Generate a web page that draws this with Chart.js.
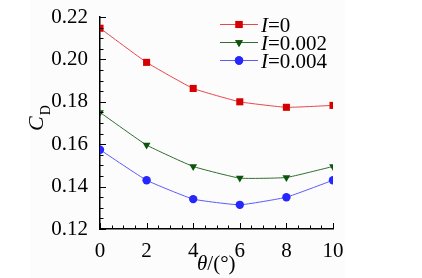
<!DOCTYPE html>
<html>
<head>
<meta charset="utf-8">
<script src="https://cdn.jsdelivr.net/npm/chart.js@4"></script>
<style>
html,body{margin:0;padding:0;background:#fff;}
#wrap{width:422px;height:278px;position:relative;}
</style>
</head>
<body>
<div id="wrap"><canvas id="c" width="422" height="278"></canvas></div>
<script>
const thetas = [0, 2, 4, 6, 8, 10];
const cdI0 = [0.2147, 0.1986, 0.1863, 0.1800, 0.1774, 0.1783];
const cdI002 = [0.1750, 0.1596, 0.1495, 0.1440, 0.1443, 0.1495];
const cdI004 = [0.1574, 0.1430, 0.1341, 0.1314, 0.1350, 0.1430];
const seriesI = ['0', '0.002', '0.004'];
const xTicks = [0, 2, 4, 6, 8, 10];
const yTicks = [0.12, 0.14, 0.16, 0.18, 0.20, 0.22];

const FONT = '"Liberation Serif", "DejaVu Serif", serif';
const lineColors = ['#e8474a', '#2f6f2f', '#5a5aff'];
const markColors = ['#d60000', '#0b560b', '#2626ff'];
const pStyles = ['rect', 'triangle', 'circle'];
const pRadius = [5, 4.5, 4.2];
const pRot = [0, 180, 0];

function mk(vals, i) {
  return {
    label: 'I=' + seriesI[i],
    data: thetas.map((t, k) => ({x: t, y: vals[k]})),
    borderColor: lineColors[i],
    backgroundColor: markColors[i],
    pointBackgroundColor: markColors[i],
    pointBorderColor: markColors[i],
    pointBorderWidth: 0,
    borderWidth: 1,
    pointStyle: pStyles[i],
    pointRadius: pRadius[i],
    pointRotation: pRot[i],
    tension: 0.12,
    fill: false
  };
}

const deco = {
  id: 'deco',
  beforeDraw(chart) {
    const ctx = chart.ctx;
    ctx.save();
    ctx.fillStyle = '#fcfcfc';
    ctx.fillRect(30, 0, 315, 278);
    ctx.restore();
  },
  afterDraw(chart) {
    const ctx = chart.ctx;
    const xs = chart.scales.x, ys = chart.scales.y;
    const a = chart.chartArea;
    ctx.save();
    ctx.strokeStyle = '#000';
    ctx.lineWidth = 1;
    for (let v = xs.min; v <= xs.max + 1e-9; v += 0.5) {
      const px = Math.round(xs.getPixelForValue(v)) + 0.5;
      const major = Math.abs(v / 2 - Math.round(v / 2)) < 1e-6;
      const len = major ? 6 : 3.5;
      ctx.beginPath();
      ctx.moveTo(px, a.bottom);
      ctx.lineTo(px, a.bottom - len);
      ctx.stroke();
    }
    for (let k = 0; k <= 20; k++) {
      const v = ys.min + k * 0.005;
      const py = Math.round(ys.getPixelForValue(v)) + 0.5;
      const major = k % 4 === 0;
      const len = major ? 6 : 3.5;
      ctx.beginPath();
      ctx.moveTo(a.left, py);
      ctx.lineTo(a.left + len, py);
      ctx.stroke();
    }
    const rows = [24, 42, 60];
    const lx0 = 220, lx1 = 258, mx = 239;
    chart.data.datasets.forEach((ds, i) => {
      const y = rows[i];
      ctx.strokeStyle = ds.borderColor;
      ctx.lineWidth = 1;
      ctx.beginPath();
      ctx.moveTo(lx0, y + 0.5);
      ctx.lineTo(lx1, y + 0.5);
      ctx.stroke();
      ctx.fillStyle = ds.pointBackgroundColor;
      Chart.helpers.drawPoint(ctx, {pointStyle: ds.pointStyle, radius: ds.pointRadius, rotation: ds.pointRotation, borderWidth: 0}, mx, y + 0.5);
      ctx.fill();
      ctx.fillStyle = '#000';
      ctx.textBaseline = 'alphabetic';
      ctx.textAlign = 'left';
      ctx.font = 'italic 21px ' + FONT;
      ctx.fillText('I', 261, y + 8);
      const w = ctx.measureText('I').width;
      ctx.font = '21px ' + FONT;
      ctx.fillText('=' + seriesI[i], 261 + w, y + 8);
    });
    ctx.fillStyle = '#000';
    ctx.font = 'italic 21px ' + FONT;
    const tx = 197;
    ctx.fillText('\u03b8', tx, 270);
    const wt = ctx.measureText('\u03b8').width;
    ctx.font = '21px ' + FONT;
    ctx.fillText('/(\u00b0)', tx + wt, 270);
    ctx.save();
    ctx.translate(43, 131);
    ctx.rotate(-Math.PI / 2);
    ctx.font = 'italic 22px ' + FONT;
    ctx.fillText('C', 0, 0);
    const wc = ctx.measureText('C').width;
    ctx.font = '14px ' + FONT;
    ctx.fillText('D', wc + 1, 7);
    ctx.restore();
    ctx.restore();
  }
};

new Chart(document.getElementById('c'), {
  type: 'line',
  data: {
    datasets: [mk(cdI0, 0), mk(cdI002, 1), mk(cdI004, 2)]
  },
  options: {
    responsive: false,
    animation: false,
    devicePixelRatio: 1,
    layout: {padding: {left: 0, right: 89, top: 17, bottom: 0}},
    plugins: {legend: {display: false}, tooltip: {enabled: false}},
    scales: {
      x: {
        type: 'linear', min: 0, max: 10,
        afterBuildTicks(s) { s.ticks = xTicks.map(v => ({value: v})); },
        afterFit(s) { s.height = 49; },
        grid: {display: false},
        border: {display: true, color: '#000', width: 1.5},
        ticks: {color: '#000', font: {family: FONT, size: 21}, padding: 2, maxRotation: 0, callback: v => String(v)}
      },
      y: {
        type: 'linear', min: 0.12, max: 0.22,
        afterBuildTicks(s) { s.ticks = yTicks.map(v => ({value: v})); },
        afterFit(s) { s.width = 100; },
        grid: {display: false},
        border: {display: true, color: '#000', width: 1.5},
        ticks: {color: '#000', font: {family: FONT, size: 21}, padding: 4, callback: v => v.toFixed(2)}
      }
    }
  },
  plugins: [deco]
});
</script>
</body>
</html>
